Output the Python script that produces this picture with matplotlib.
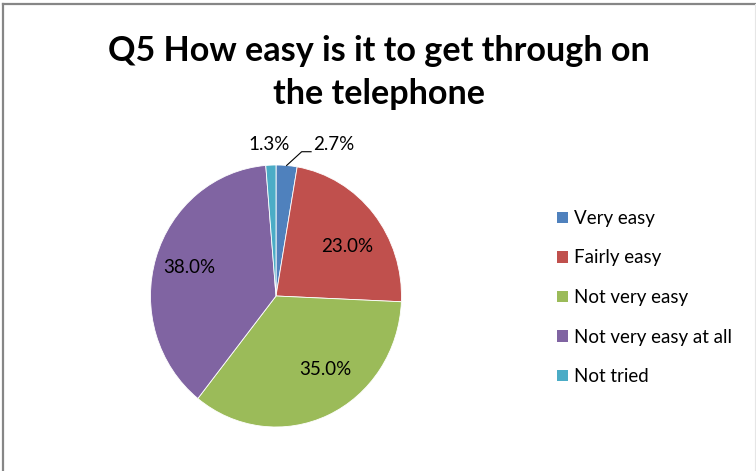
import numpy as np
import matplotlib
matplotlib.use("Agg")
import matplotlib.pyplot as plt
from matplotlib.lines import Line2D
from matplotlib.patches import Patch

# Survey answers (percent of respondents)
categories = ["Very easy", "Fairly easy", "Not very easy", "Not very easy at all", "Not tried"]
values = [2.7, 23.0, 35.0, 38.0, 1.3]
colors = ["#4F81BD", "#C0504D", "#9BBB59", "#8064A2", "#4BACC6"]
title = "Q5 How easy is it to get through on\nthe telephone"

# Inside-label placement: angular nudge (deg) and radius as fraction of pie radius
label_nudge = [0.0, -6.0, 9.8, 0.3, 0.0]
label_radius = [1.0, 0.675, 0.695, 0.72, 1.155]

W, H = 756, 471
fig = plt.figure(figsize=(W / 100, H / 100), dpi=100)
fig.patch.set_facecolor("white")

FONT = "Lato"
LBL_SIZE = 13.5

# Pie box in pixels (left, top, right, bottom)
pl, pt, pr, pb = 150.5, 165.0, 401.5, 427.0
ax = fig.add_axes([pl / W, 1 - pb / H, (pr - pl) / W, (pb - pt) / H])
wedges, _ = ax.pie(values, colors=colors, startangle=90, counterclock=False,
                   radius=1.0, wedgeprops=dict(linewidth=0.6, edgecolor="white"))
ax.set_aspect("auto")
ax.set_xlim(-1, 1)
ax.set_ylim(-1, 1)
ax.axis("off")

# Data labels
total = sum(values)
cum = 0.0
for i, v in enumerate(values):
    mid = 90 - (cum + v / 2) / total * 360
    cum += v
    txt = f"{v:.1f}%"
    if v >= 5:
        a = np.deg2rad(mid + label_nudge[i])
        r = label_radius[i]
        ax.text(r * np.cos(a), r * np.sin(a) + 0.01, txt, ha="center", va="center",
                fontsize=LBL_SIZE, family=FONT, color="#000000")
    elif i == 0:
        a = np.deg2rad(mid)
        x0, y0 = np.cos(a), np.sin(a)
        x1, y1 = x0 + 0.12, y0 + 0.105
        x2 = x1 + 0.075
        ax.add_line(Line2D([x0, x1, x2], [y0, y1, y1], color="#000000",
                           lw=0.8, clip_on=False))
        ax.text(x2 + 0.012, y1 + 0.055, txt, ha="left", va="center",
                fontsize=LBL_SIZE, family=FONT, color="#000000", clip_on=False)
    else:
        a = np.deg2rad(mid)
        r = label_radius[i]
        ax.text(r * np.cos(a) - 0.01, r * np.sin(a), txt, ha="center", va="center",
                fontsize=LBL_SIZE, family=FONT, color="#000000", clip_on=False)

# Title
fig.text(379 / W, 1 - 35 / H, title, ha="center", va="top", fontsize=24.6,
         fontweight="bold", family=FONT, linespacing=1.42, color="#000000")

# Legend
handles = [Patch(facecolor=c, edgecolor="none") for c in colors]
fig.legend(handles, categories, loc="upper left",
           bbox_to_anchor=(557 / W, 1 - 210 / H), frameon=False,
           handlelength=0.58, handleheight=0.58, handletextpad=0.32,
           labelspacing=1.2, borderaxespad=0, borderpad=0,
           prop=dict(family=FONT, size=LBL_SIZE))

# Chart-area frame (top, left, faint right)
fig.add_artist(Line2D([2.5 / W, 1], [1 - 4 / H, 1 - 4 / H], transform=fig.transFigure,
                      color="#868686", lw=1.6))
fig.add_artist(Line2D([2.5 / W, 2.5 / W], [0, 1 - 4 / H], transform=fig.transFigure,
                      color="#868686", lw=1.6))
fig.add_artist(Line2D([754.5 / W, 754.5 / W], [0, 1 - 4 / H], transform=fig.transFigure,
                      color="#E6E6E6", lw=0.8))

fig.savefig("out.png", dpi=100, facecolor="white")
